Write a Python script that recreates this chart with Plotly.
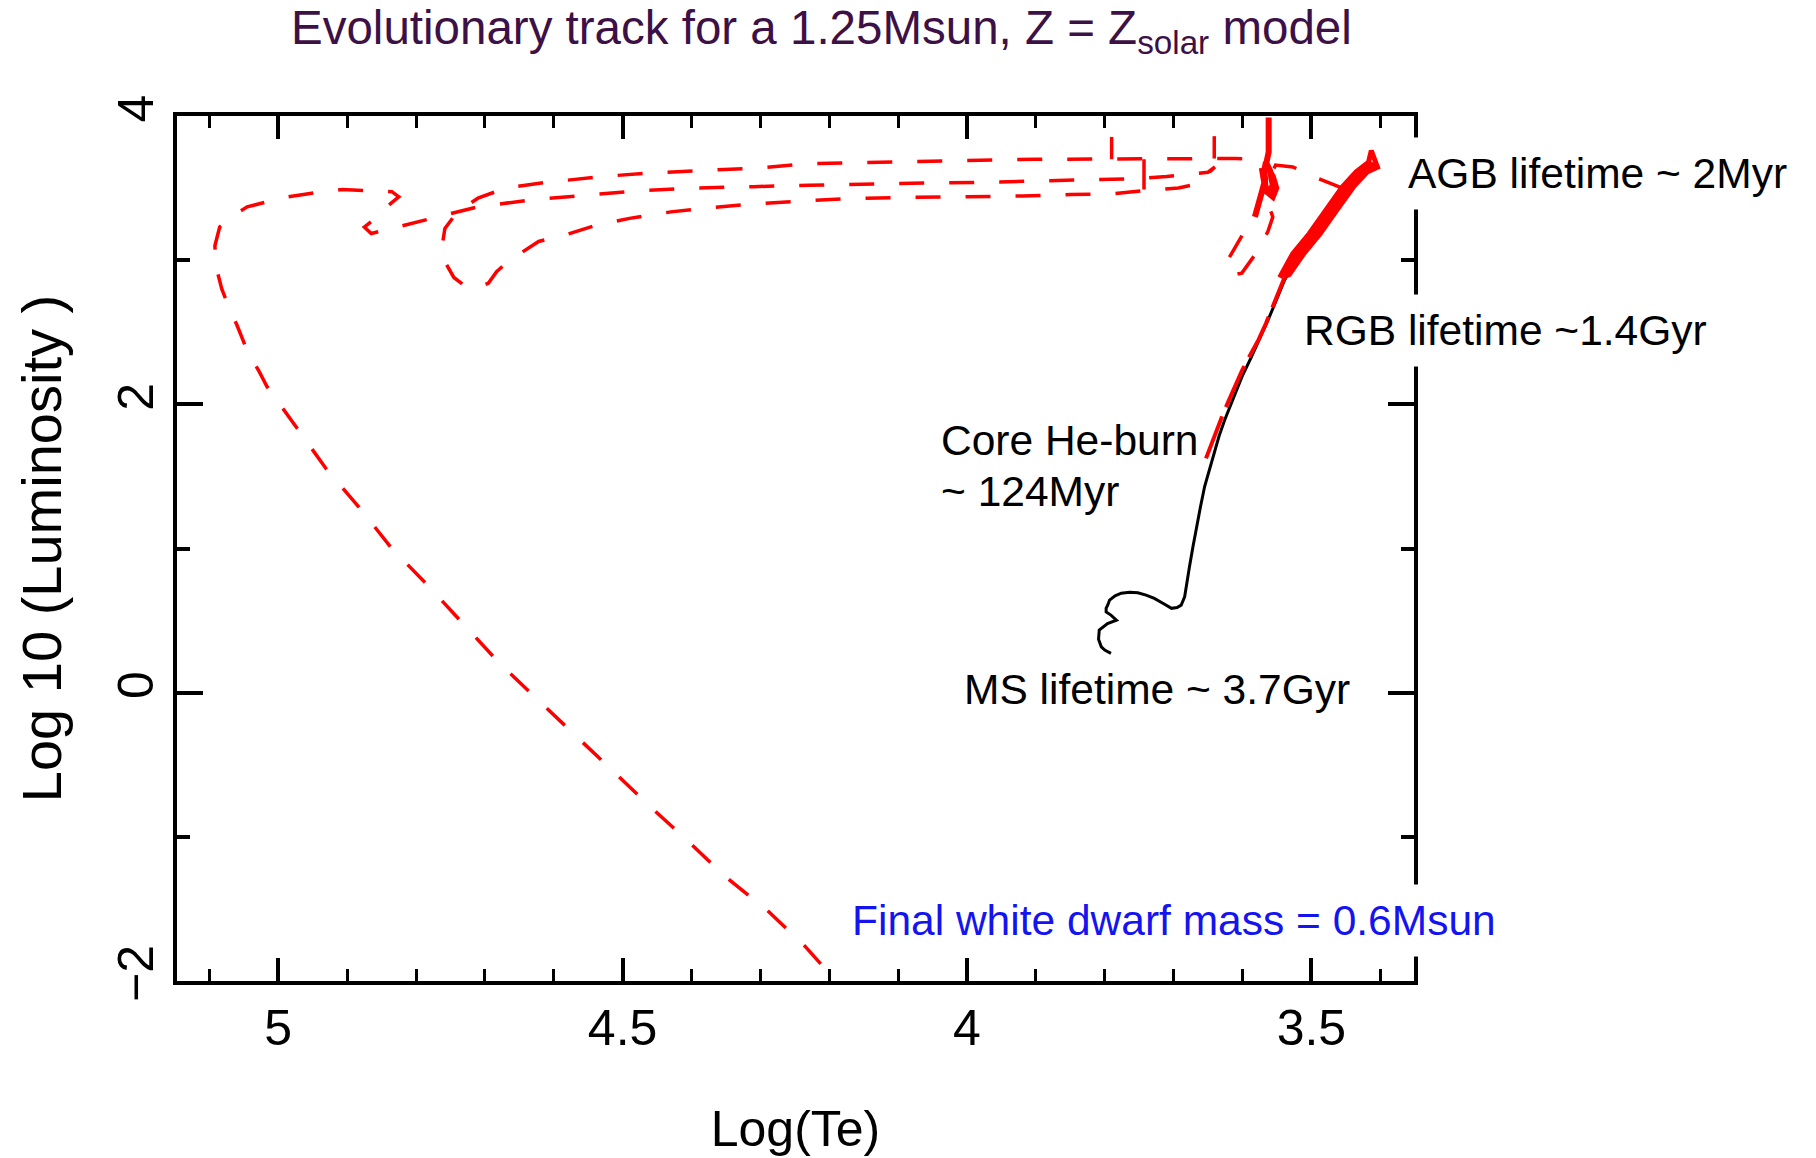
import plotly.graph_objects as go

# ---------------- data ----------------
# Main sequence + red giant branch (black, solid)
ms_rgb_logte = [3.791, 3.800, 3.805, 3.809, 3.808, 3.800, 3.796, 3.783, 3.787, 3.791, 3.798, 3.798,
                3.795, 3.793, 3.785, 3.776, 3.764, 3.752, 3.740, 3.728, 3.715, 3.703, 3.695, 3.689,
                3.684, 3.680, 3.677, 3.672, 3.667, 3.661, 3.655, 3.648, 3.641, 3.634, 3.626, 3.614,
                3.600, 3.587, 3.575, 3.563, 3.551, 3.539, 3.525, 3.510, 3.495]
ms_rgb_logl = [0.273, 0.295, 0.318, 0.370, 0.434, 0.465, 0.480, 0.503, 0.520, 0.538, 0.560, 0.585,
               0.615, 0.642, 0.672, 0.690, 0.697, 0.693, 0.677, 0.654, 0.618, 0.585, 0.590, 0.607,
               0.665, 0.770, 0.873, 1.010, 1.150, 1.290, 1.430, 1.550, 1.660, 1.780, 1.890, 2.030,
               2.200, 2.329, 2.455, 2.584, 2.720, 2.861, 2.980, 3.100, 3.200]

# Core He burning / early AGB (red)
he_logte = [3.653, 3.641, 3.628, 3.615, 3.600, 3.588, 3.577, 3.566, 3.556, 3.548, 3.539]
he_logl = [1.625, 1.780, 1.937, 2.080, 2.240, 2.350, 2.445, 2.560, 2.680, 2.780, 2.880]

# Thermally pulsing AGB band (red, dense: several passes up and down)
agb_logte = [3.546, 3.527, 3.503, 3.479, 3.455, 3.435, 3.417, 3.413,
             3.404, 3.419, 3.439, 3.463, 3.487, 3.511, 3.532,
             3.540, 3.519, 3.495, 3.471, 3.447, 3.427, 3.410,
             3.412, 3.431, 3.451, 3.475, 3.499, 3.523, 3.542,
             3.536, 3.515, 3.491, 3.467, 3.443, 3.423, 3.408]
agb_logl = [2.880, 3.046, 3.185, 3.347, 3.508, 3.612, 3.680, 3.760,
            3.645, 3.612, 3.508, 3.347, 3.185, 3.046, 2.900,
            2.884, 3.046, 3.185, 3.347, 3.508, 3.612, 3.671,
            3.660, 3.612, 3.508, 3.347, 3.185, 3.046, 2.890,
            2.950, 3.070, 3.200, 3.360, 3.520, 3.625, 3.655]

# Pulse blob near logTe ~ 3.56 (red, dense)
blob_logte = [3.562, 3.562, 3.566, 3.556, 3.551, 3.556, 3.566, 3.570, 3.566, 3.560, 3.556, 3.563,
              3.568, 3.572, 3.567, 3.575, 3.582]
blob_logl = [3.99, 3.75, 3.66, 3.58, 3.50, 3.44, 3.48, 3.58, 3.68, 3.62, 3.52, 3.46,
             3.53, 3.64, 3.56, 3.42, 3.30]

# Short vertical excursions on the post-AGB track
spike_logte = [3.790, 3.790, None, 3.641, 3.641, None, 3.743, 3.743]
spike_logl = [3.700, 3.855, None, 3.705, 3.860, None, 3.700, 3.490]

# Post-AGB loops and white dwarf cooling track (red, dashed)
post_logte = [3.455, 3.490, 3.527, 3.552,
              3.575, 3.582, 3.599, 3.619, 3.624, 3.612, 3.601, 3.589, 3.577, 3.563, 3.556, 3.563, 3.566, 3.568,
              3.610, 3.646, 3.679, 3.718, 3.746, 3.790, 3.846, 3.900, 3.960, 4.030, 4.100, 4.170, 4.230,
              4.300, 4.380, 4.460, 4.530, 4.610, 4.670, 4.710, 4.740, 4.758, 4.762, 4.757, 4.745, 4.730,
              4.712, 4.695, 4.683, 4.670, 4.654, 4.622, 4.580, 4.540, 4.490, 4.430, 4.370, 4.310, 4.240,
              4.180, 4.100, 4.000, 3.920, 3.850, 3.790, 3.737, 3.693, 3.665, 3.655, 3.640,
              3.650, 3.672, 3.710, 3.750, 3.800, 3.860, 3.920, 3.980, 4.060, 4.150, 4.230, 4.310, 4.400,
              4.480, 4.550, 4.630, 4.710, 4.770, 4.826, 4.865, 4.875, 4.856, 4.840, 4.825, 4.835, 4.865,
              4.907, 4.943, 4.985, 5.020, 5.045, 5.065, 5.085, 5.092, 5.090, 5.082, 5.073, 5.060, 5.044,
              5.028, 5.016, 4.975, 4.930, 4.880, 4.835, 4.780, 4.730, 4.680, 4.625, 4.570, 4.515, 4.460,
              4.405, 4.350, 4.290, 4.235, 4.190]
post_logl = [3.500, 3.567, 3.647, 3.660,
             3.420, 3.300, 3.185, 3.020, 2.950, 2.900, 2.910, 2.990, 3.070, 3.200, 3.300, 3.395, 3.550, 3.700,
             3.705, 3.705, 3.705, 3.705, 3.700, 3.700, 3.700, 3.700, 3.695, 3.690, 3.685, 3.675, 3.670,
             3.640, 3.625, 3.605, 3.580, 3.540, 3.500, 3.430, 3.335, 3.220, 3.100, 2.980, 2.880, 2.825,
             2.805, 2.840, 2.920, 2.975, 3.030, 3.130, 3.180, 3.240, 3.290, 3.335, 3.365, 3.390, 3.410,
             3.425, 3.435, 3.440, 3.445, 3.455, 3.460, 3.485, 3.500, 3.530, 3.580, 3.647,
             3.610, 3.598, 3.580, 3.566, 3.560, 3.555, 3.545, 3.540, 3.535, 3.530, 3.520, 3.510, 3.500,
             3.480, 3.450, 3.420, 3.370, 3.300, 3.230, 3.185, 3.230, 3.300, 3.380, 3.440, 3.475, 3.480,
             3.490, 3.470, 3.440, 3.400, 3.370, 3.310, 3.230, 3.100, 2.950, 2.800, 2.690, 2.550, 2.360,
             2.230, 2.120, 1.850, 1.550, 1.270, 1.000, 0.730, 0.470, 0.210, -0.040, -0.290, -0.540, -0.790,
             -1.030, -1.280, -1.510, -1.760, -2.000]

# Axis ticks
x_tick_vals = [5, 4.5, 4, 3.5]
x_tick_text = ["5", "4.5", "4", "3.5"]
y_tick_vals = [-2, 0, 2, 4]
y_tick_text = ["\u22122", "0", "2", "4"]

# Labels
title_text = "Evolutionary track for a 1.25Msun, Z = Z<sub>solar</sub> model"
x_title = "Log(Te)"
y_title = "Log 10 (Luminosity )"
label_agb = "AGB lifetime ~ 2Myr"
label_rgb = "RGB lifetime ~1.4Gyr"
label_he1 = "Core He-burn"
label_he2 = "~ 124Myr"
label_ms = "MS lifetime ~ 3.7Gyr"
label_wd = "Final white dwarf mass = 0.6Msun"

# ---------------- figure ----------------
RED = "#ff0000"
FONT = "Arial, Liberation Sans, sans-serif"

fig = go.Figure()
fig.add_trace(go.Scatter(x=ms_rgb_logte, y=ms_rgb_logl, mode="lines",
                         line=dict(color="black", width=3), name="MS + RGB"))
fig.add_trace(go.Scatter(x=he_logte, y=he_logl, mode="lines",
                         line=dict(color=RED, width=4, dash="45px,10px"), name="Core He burning"))
fig.add_trace(go.Scatter(x=agb_logte, y=agb_logl, mode="lines",
                         line=dict(color=RED, width=5), name="AGB"))
fig.add_trace(go.Scatter(x=blob_logte, y=blob_logl, mode="lines",
                         line=dict(color=RED, width=6), name="Pulse"))
fig.add_trace(go.Scatter(x=spike_logte, y=spike_logl, mode="lines",
                         line=dict(color=RED, width=3.5), name="Spikes"))
fig.add_trace(go.Scatter(x=post_logte, y=post_logl, mode="lines",
                         line=dict(color=RED, width=3.5, dash="25px,25px"), name="Post-AGB / WD"))

axis_common = dict(showline=True, linecolor="black", linewidth=3.5, mirror="allticks",
                   ticks="inside", tickcolor="black", tickwidth=3.5,
                   showgrid=False, zeroline=False)

fig.update_xaxes(range=[5.147, 3.351], tickmode="array", tickvals=x_tick_vals, ticktext=x_tick_text,
                 ticklen=23,
                 minor=dict(tickmode="linear", tick0=0, dtick=0.1, ticks="inside", ticklen=12,
                            tickwidth=3, tickcolor="black", showgrid=False),
                 tickfont=dict(family=FONT, size=50, color="black"),
                 title=dict(text=x_title, font=dict(family=FONT, size=50, color="black"), standoff=57),
                 **axis_common)
fig.update_yaxes(range=[-2, 4], tickmode="array", tickvals=y_tick_vals, ticktext=y_tick_text,
                 ticklen=26, tickangle=-90,
                 minor=dict(tickmode="linear", tick0=0, dtick=1, ticks="inside", ticklen=13,
                            tickwidth=3.5, tickcolor="black", showgrid=False),
                 tickfont=dict(family=FONT, size=50, color="black"),
                 title=dict(text=y_title, font=dict(family=FONT, size=56, color="black"), standoff=30),
                 **axis_common)

ann_font = dict(family=FONT, size=42.5, color="black")
annotations = [
    dict(text=title_text, x=0.5214, y=1.0983, xref="paper", yref="paper", xanchor="center",
         yanchor="middle", showarrow=False, font=dict(family=FONT, size=47.5, color="#3d1046")),
    dict(text=label_agb, x=0.98464, y=0.93410, xref="paper", yref="paper", xanchor="left",
         yanchor="middle", showarrow=False, font=ann_font, bgcolor="white", borderpad=12),
    dict(text=label_rgb, x=0.90057, y=0.75260, xref="paper", yref="paper", xanchor="left",
         yanchor="middle", showarrow=False, font=ann_font, bgcolor="white", borderpad=12),
    dict(text=label_he1, x=0.61601, y=0.62428, xref="paper", yref="paper", xanchor="left",
         yanchor="middle", showarrow=False, font=ann_font),
    dict(text=label_he2, x=0.61601, y=0.56647, xref="paper", yref="paper", xanchor="left",
         yanchor="middle", showarrow=False, font=ann_font),
    dict(text=label_ms, x=0.63460, y=0.33642, xref="paper", yref="paper", xanchor="left",
         yanchor="middle", showarrow=False, font=ann_font),
    dict(text=label_wd, x=0.53517, y=0.07052, xref="paper", yref="paper", xanchor="left",
         yanchor="middle", showarrow=False, font=dict(family=FONT, size=42.5, color="#1414f0"),
         bgcolor="white", borderpad=12),
]

fig.update_layout(width=1816, height=1158, margin=dict(l=177, r=402, t=116, b=177, autoexpand=False),
                  paper_bgcolor="white", plot_bgcolor="white", showlegend=False,
                  annotations=annotations, font=dict(family=FONT, color="black"))

fig.write_html("out.html")
